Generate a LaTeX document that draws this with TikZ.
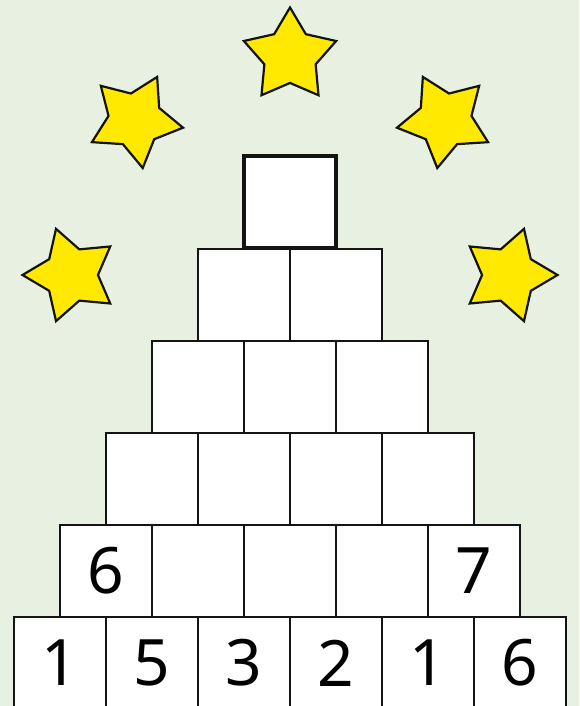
\documentclass[tikz,border=0pt]{standalone}
\usepackage{fontspec}
\setmainfont{Noto Sans}
\usepackage{tikz}
\usetikzlibrary{shapes.geometric,positioning}
\definecolor{meadow}  {HTML}{E8F1E1}
\definecolor{starfill}{HTML}{FFE900}
\definecolor{ink}     {HTML}{141414}

\tikzset{
  cell/.style={draw=ink,line width=1.7pt,fill=white,minimum size=92pt,
               inner sep=0pt,font=\fontsize{64}{64}\selectfont},
  apexcell/.style={cell,line width=3.8pt,minimum size=92pt},
  starnode/.style={star,star points=5,star point ratio=1.8,draw=ink,
                   line width=2.2pt,fill=starfill,minimum size=97pt,inner sep=0pt}
}

\begin{document}
\begin{tikzpicture}[x=1pt,y=1pt]
  \fill[meadow] (0,0) rectangle (579,706);
  \useasboundingbox (0,0) rectangle (579,706);
  \clip (0,0) rectangle (579,706);
  % stars on an arc round the pyramid
  \foreach \a in {180,135,90,45,0}
    \node[starnode,rotate=\a-90] (star\a) at ({290+219*cos(\a)},{431+219*sin(\a)}) {};
  % bottom row and the given numbers
  \foreach [count=\i] \v in {1,5,3,2,1,6}
    \node[cell] (r1c\i) at ({290+(\i-3.5)*92},43) {\v};
  \foreach [count=\i] \v in {6,{},{},{},7}
    \node[cell] (r2c\i) at ({290+(\i-3)*92},135) {\v};
  % empty rows
  \foreach \i in {1,...,4}
    \node[cell] (r3c\i) at ({290+(\i-2.5)*92},227) {};
  \foreach \i in {1,...,3}
    \node[cell] (r4c\i) at ({290+(\i-2)*92},319) {};
  \foreach \i in {1,2}
    \node[cell] (r5c\i) at ({290+(\i-1.5)*92},411) {};
  \node[apexcell] (apex) at (290,504) {};
\end{tikzpicture}
\end{document}
